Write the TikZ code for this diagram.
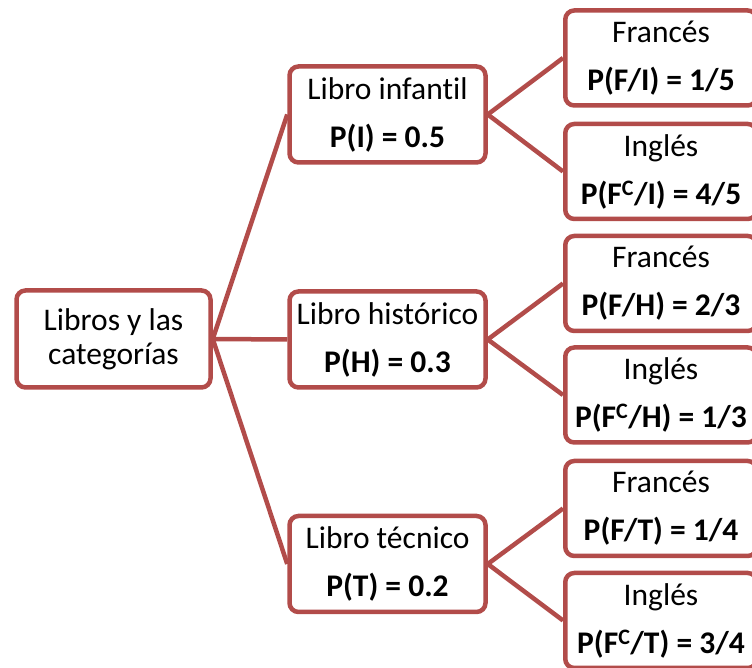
\documentclass[tikz,border=0pt]{standalone}
\usepackage{fontspec}
\setmainfont{Carlito}[Ligatures=NoCommon]
\usetikzlibrary{backgrounds}
\definecolor{brd}{RGB}{178,76,74}
\tikzset{
  box/.style={draw=brd, line width=4.5pt, rounded corners=9pt, fill=white,
    align=center, inner sep=0pt, text=black,
    font=\fontsize{31.5}{34}\selectfont},
  rootbox/.style={box, minimum width=194pt, minimum height=97pt},
  midbox/.style={box, minimum width=196pt, minimum height=96pt},
  leafbox/.style={box, minimum width=191.5pt, minimum height=95pt},
  conn/.style={draw=brd, line width=4.5pt}
}
\begin{document}
\begin{tikzpicture}[x=1pt,y=1pt]
\useasboundingbox (0,0) rectangle (752,668);
\node[rootbox] (root) at (113.5,329) {Libros y las\\categorías};
\node[midbox] (I) at (387.5,553.5) {Libro infantil\\[14pt]\textbf{P(I) = 0.5}};
\node[midbox] (H) at (387.5,328.5) {Libro histórico\\[14pt]\textbf{P(H) = 0.3}};
\node[midbox] (T) at (387.5,104) {Libro técnico\\[14pt]\textbf{P(T) = 0.2}};
\node[leafbox] (IF) at (661,610) {Francés\\[14pt]\textbf{P(F/I) = 1/5}};
\node[leafbox] (IE) at (661,496.5) {Inglés\\[14pt]\textbf{P(F\textsuperscript{C}/I) = 4/5}};
\node[leafbox] (HF) at (661,384.5) {Francés\\[14pt]\textbf{P(F/H) = 2/3}};
\node[leafbox] (HE) at (661,273) {Inglés\\[14pt]\textbf{P(F\textsuperscript{C}/H) = 1/3}};
\node[leafbox] (TF) at (661,159.5) {Francés\\[14pt]\textbf{P(F/T) = 1/4}};
\node[leafbox] (TE) at (661,47.5) {Inglés\\[14pt]\textbf{P(F\textsuperscript{C}/T) = 3/4}};
\begin{scope}[on background layer]
\draw[conn] (root.east) -- (I.west);
\draw[conn] (root.east) -- (H.west);
\draw[conn] (root.east) -- (T.west);
\draw[conn] (I.east) -- (IF.west);
\draw[conn] (I.east) -- (IE.west);
\draw[conn] (H.east) -- (HF.west);
\draw[conn] (H.east) -- (HE.west);
\draw[conn] (T.east) -- (TF.west);
\draw[conn] (T.east) -- (TE.west);
\end{scope}
\end{tikzpicture}
\end{document}
